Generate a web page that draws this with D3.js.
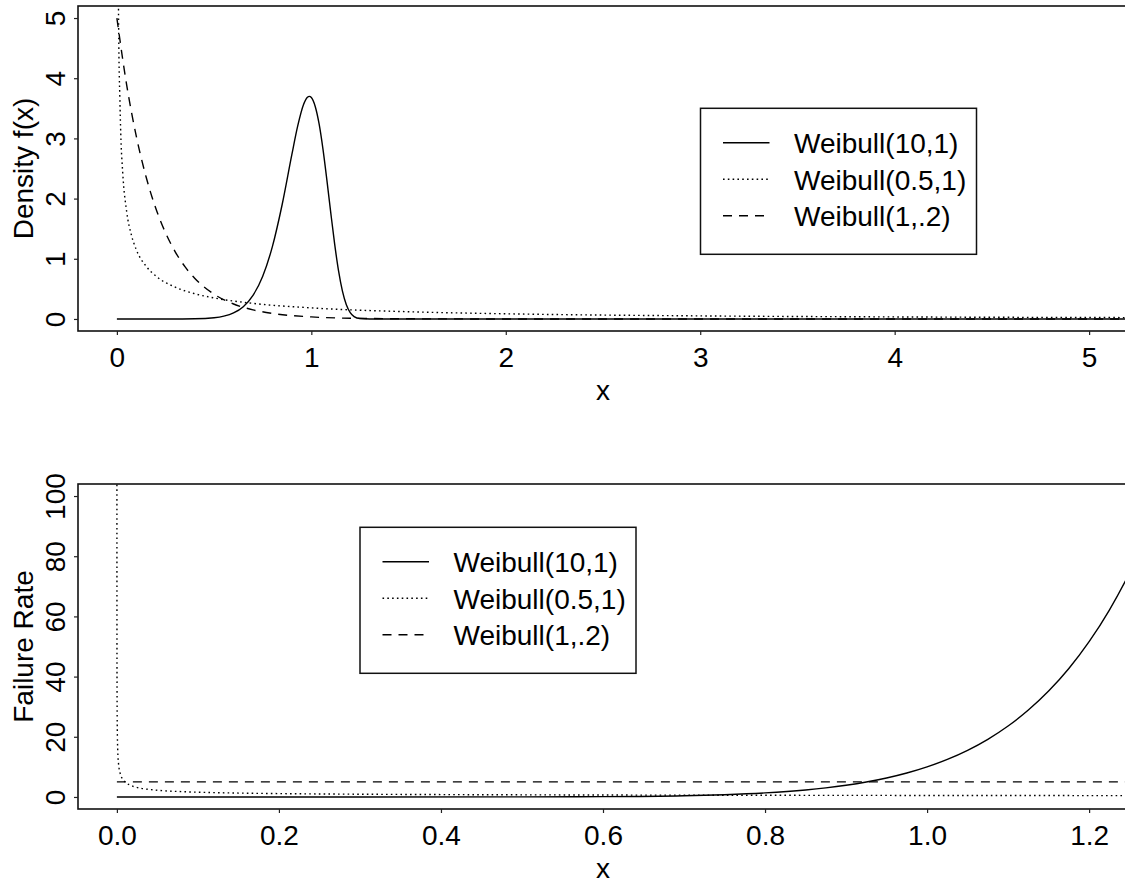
<!DOCTYPE html>
<html>
<head>
<meta charset="utf-8">
<script src="https://cdn.jsdelivr.net/npm/d3@7"></script>
<style>
  html, body { margin: 0; padding: 0; background: #fff; }
  svg { display: block; font-family: "Liberation Sans", Arial, Helvetica, sans-serif; }
</style>
</head>
<body>
<svg id="chart" width="1125" height="884"></svg>
<script>
// ---------- data ----------
const legendLabels = ["Weibull(10,1)", "Weibull(0.5,1)", "Weibull(1,.2)"];

// Top panel: density f(x)
const densTicksX = [0, 1, 2, 3, 4, 5];
const densTicksY = [0, 1, 2, 3, 4, 5];
const densA_x = [0, 0.3, 0.4, 0.5, 0.55, 0.6, 0.65, 0.7, 0.75, 0.8, 0.85, 0.9, 0.93, 0.96, 0.98, 0.99, 1.0, 1.02, 1.04, 1.06, 1.08, 1.1, 1.12, 1.14, 1.16, 1.18, 1.2, 1.22, 1.25, 1.3, 2, 3, 4, 5.3];
const densA_y = [0, 0.0002, 0.0026, 0.0195, 0.046, 0.100, 0.204, 0.392, 0.710, 1.206, 1.902, 2.734, 3.207, 3.562, 3.683, 3.698, 3.679, 3.531, 3.240, 2.818, 2.307, 1.763, 1.243, 0.798, 0.462, 0.237, 0.106, 0.040, 0.007, 0.0005, 0, 0, 0, 0];
const densB_x = [0.005, 0.0075, 0.01, 0.015, 0.02, 0.03, 0.05, 0.075, 0.1, 0.15, 0.2, 0.3, 0.4, 0.5, 0.7, 1.0, 1.5, 2, 3, 4, 5.3];
const densB_y = [6.59, 5.45, 4.52, 3.70, 3.07, 2.43, 1.79, 1.39, 1.15, 0.877, 0.715, 0.528, 0.420, 0.349, 0.259, 0.184, 0.120, 0.086, 0.051, 0.034, 0.022];
const densC_x = [0, 0.05, 0.1, 0.15, 0.2, 0.25, 0.3, 0.35, 0.4, 0.5, 0.6, 0.7, 0.8, 1.0, 1.2, 1.5, 2, 3, 5.3];
const densC_y = [5.0, 3.894, 3.033, 2.362, 1.839, 1.433, 1.116, 0.869, 0.677, 0.410, 0.249, 0.151, 0.092, 0.034, 0.012, 0.003, 0.0002, 0, 0];

// Bottom panel: failure rate
const hazTicksX = [0, 0.2, 0.4, 0.6, 0.8, 1.0, 1.2];
const hazTicksY = [0, 20, 40, 60, 80, 100];
const hazA_x = [0, 0.3, 0.5, 0.6, 0.7, 0.75, 0.8, 0.85, 0.875, 0.9, 0.925, 0.95, 0.975, 1.0, 1.025, 1.05, 1.075, 1.1, 1.125, 1.15, 1.175, 1.2, 1.225, 1.25, 1.3];
const hazA_y = [0, 0.0002, 0.0195, 0.101, 0.404, 0.751, 1.342, 2.316, 3.007, 3.874, 4.958, 6.302, 7.962, 10.0, 12.49, 15.51, 19.17, 23.58, 28.87, 35.18, 42.69, 51.60, 62.12, 74.51, 106.04];
const hazB_x = [0.00002, 0.0001, 0.0002, 0.0005, 0.001, 0.002, 0.004, 0.007, 0.01, 0.015, 0.02, 0.03, 0.05, 0.075, 0.1, 0.15, 0.2, 0.3, 0.4, 0.6, 0.8, 1.0, 1.3];
const hazB_y = [111.8, 50.0, 35.36, 22.36, 15.81, 11.18, 7.906, 5.976, 5.0, 4.082, 3.536, 2.887, 2.236, 1.826, 1.581, 1.291, 1.118, 0.913, 0.791, 0.646, 0.559, 0.5, 0.439];
const hazC_x = [0, 1.3];
const hazC_y = [5, 5];

// ---------- drawing ----------
const svg = d3.select("#chart");
svg.append("rect").attr("width", 1125).attr("height", 884).attr("fill", "#fff");

const FONT = 28;
const styles = [
  { dash: null },
  { dash: "1.6,3.2" },
  { dash: "9,7" }
];

function panel(opts) {
  const { top, bottom, left, right, xDomain, yDomain, ticksX, ticksY, fmtX, fmtY, series, ytitle, legend, id } = opts;
  const x = d3.scaleLinear().domain(xDomain).range([left, right]);
  const y = d3.scaleLinear().domain(yDomain).range([bottom, top]);
  const g = svg.append("g");

  g.append("clipPath").attr("id", id).append("rect")
    .attr("x", left).attr("y", top).attr("width", right - left).attr("height", bottom - top);

  const line = d3.line().x(d => x(d[0])).y(d => y(d[1])).curve(d3.curveMonotoneX);
  const plotG = g.append("g").attr("clip-path", `url(#${id})`);
  series.forEach((s, i) => {
    const pts = s.xs.map((v, k) => [v, s.ys[k]]);
    plotG.append("path").datum(pts)
      .attr("d", line)
      .attr("fill", "none")
      .attr("stroke", "#000")
      .attr("stroke-width", 1.4)
      .attr("stroke-dasharray", styles[i].dash);
  });

  // box
  g.append("rect").attr("x", left).attr("y", top)
    .attr("width", right - left).attr("height", bottom - top)
    .attr("fill", "none").attr("stroke", "#111").attr("stroke-width", 1.6);

  // x axis
  const xa = g.append("g").attr("transform", `translate(0,${bottom})`)
    .call(d3.axisBottom(x).tickValues(ticksX).tickFormat(fmtX).tickSize(4).tickPadding(12));
  xa.select(".domain").remove();
  xa.selectAll("line").attr("stroke", "#222").attr("stroke-width", 1.2);
  xa.selectAll("text").attr("font-size", FONT).attr("fill", "#000")
    .attr("font-family", "Liberation Sans, Arial, sans-serif");

  // y axis
  const ya = g.append("g").attr("transform", `translate(${left},0)`)
    .call(d3.axisLeft(y).tickValues(ticksY).tickFormat(fmtY).tickSize(4));
  ya.select(".domain").remove();
  ya.selectAll("line").attr("stroke", "#222").attr("stroke-width", 1.2);
  ya.selectAll("text")
    .attr("x", null).attr("dy", null).attr("y", 0)
    .attr("transform", "translate(-13,0) rotate(-90)")
    .attr("text-anchor", "middle")
    .attr("font-size", FONT).attr("fill", "#000")
    .attr("font-family", "Liberation Sans, Arial, sans-serif");

  // titles
  g.append("text").attr("x", (left + right) / 2).attr("y", bottom + 69)
    .attr("text-anchor", "middle").attr("font-size", FONT).text("x");
  g.append("text").attr("transform", `translate(33,${(top + bottom) / 2}) rotate(-90)`)
    .attr("text-anchor", "middle").attr("font-size", FONT).text(ytitle);

  // legend
  const lg = g.append("g");
  lg.append("rect").attr("x", legend.x).attr("y", legend.y).attr("width", 276).attr("height", 146)
    .attr("fill", "#fff").attr("stroke", "#111").attr("stroke-width", 1.5);
  legendLabels.forEach((lab, i) => {
    const ly = legend.y + 34.5 + i * 36.5;
    lg.append("line").attr("x1", legend.x + 22.5).attr("x2", legend.x + 69)
      .attr("y1", ly).attr("y2", ly)
      .attr("stroke", "#000").attr("stroke-width", 1.4)
      .attr("stroke-dasharray", styles[i].dash);
    lg.append("text").attr("x", legend.x + 93.5).attr("y", ly + 10.5)
      .attr("font-size", FONT).text(lab);
  });
}

panel({
  id: "clipTop", top: 6, bottom: 331, left: 78, right: 1128,
  xDomain: [-0.2, 5.2], yDomain: [-0.2, 5.2],
  ticksX: densTicksX, ticksY: densTicksY, fmtX: d3.format("d"), fmtY: d3.format("d"),
  series: [{ xs: densA_x, ys: densA_y }, { xs: densB_x, ys: densB_y }, { xs: densC_x, ys: densC_y }],
  ytitle: "Density f(x)", legend: { x: 700.5, y: 108.3 }
});

panel({
  id: "clipBottom", top: 484, bottom: 809, left: 78, right: 1128,
  xDomain: [-0.048, 1.248], yDomain: [-4, 104],
  ticksX: hazTicksX, ticksY: hazTicksY, fmtX: d3.format(".1f"), fmtY: d3.format("d"),
  series: [{ xs: hazA_x, ys: hazA_y }, { xs: hazB_x, ys: hazB_y }, { xs: hazC_x, ys: hazC_y }],
  ytitle: "Failure Rate", legend: { x: 360, y: 527.3 }
});
</script>
</body>
</html>
